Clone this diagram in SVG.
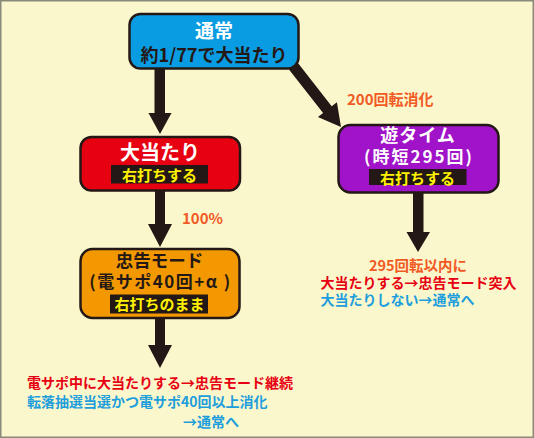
<svg xmlns="http://www.w3.org/2000/svg" width="534" height="438" viewBox="0 0 534 438">
<style>
text{font-family:"Noto Sans CJK JP","Noto Sans",sans-serif;font-weight:700}
.node{stroke:#231815;stroke-width:2.5}
.lbl{fill:#231815}
.c{text-anchor:middle}
.w{fill:#ffffff}
.k{fill:#231815}
.y{fill:#FFF100}
.o{fill:#F15A24}
.r{fill:#E60012}
.b{fill:#1E9EDC}
.arr{fill:#231815}
</style>
<rect x="0.75" y="0.75" width="532.5" height="436.5" fill="#FBF7CC" stroke="#8A8A7A" stroke-width="1.5"/>
<g id="connectors">
<polygon class="arr" points="154.5,66 165,66 165,113 171.5,113 160,134 148.5,113 154.5,113"/>
<polygon class="arr" points="155,188 165,188 165,224 172,224 160,247 148,224 155,224"/>
<polygon class="arr" points="155,316 165,316 165,345 172,345 160,368 148,345 155,345"/>
<polygon class="arr" points="413,190 423.5,190 423.5,232 430,232 418,252 406.5,232 413,232"/>
<polygon class="arr" points="291.3,54.6 331.7,106.3 336.9,102.3 341,127 317.9,117.1 323.1,113.1 282.7,61.4"/>
<text class="o" x="347" y="105" font-size="15">200回転消化</text>
<text class="o" x="182" y="224" font-size="15">100%</text>
</g>
<g id="node-tsujo">
<rect class="node" x="129.5" y="14" width="169" height="54.5" rx="11" fill="#0A9CE2"/>
<text class="c w" x="214" y="37.5" font-size="19">通常</text>
<text class="c k" x="214" y="62" font-size="18">約1/77で大当たり</text>
</g>
<g id="node-ooatari">
<rect class="node" x="80.5" y="137" width="159.5" height="53.5" rx="11" fill="#E60012"/>
<text class="c w" x="160" y="159.5" font-size="20">大当たり</text>
<rect class="lbl" x="111" y="165" width="97" height="18.5"/>
<text class="c y" x="159.5" y="181" font-size="15">右打ちする</text>
</g>
<g id="node-yutime">
<rect class="node" x="338.5" y="125" width="160" height="67.5" rx="12" fill="#A013C8"/>
<text class="c w" x="418" y="142" font-size="18" letter-spacing="1">遊タイム</text>
<text class="c w" x="419" y="162.5" font-size="17" letter-spacing="2">(時短295回)</text>
<rect class="lbl" x="369" y="169" width="97.5" height="16"/>
<text class="c y" x="417.5" y="183.5" font-size="15">右打ちする</text>
</g>
<g id="node-chukoku">
<rect class="node" x="80.5" y="249" width="159" height="69" rx="12" fill="#F39800"/>
<text class="c k" x="159.5" y="267" font-size="17.5">忠告モード</text>
<text class="c k" x="160.5" y="288" font-size="17" letter-spacing="1.5">(電サポ40回+α )</text>
<rect class="lbl" x="110" y="294.5" width="98" height="19"/>
<text class="c y" x="159.5" y="310" font-size="15">右打ちのまま</text>
</g>
<g id="result-right">
<text class="c o" x="418" y="271" font-size="14.5">295回転以内に</text>
<text class="r" x="320.5" y="288" font-size="14">大当たりする→忠告モード突入</text>
<text class="b" x="320.5" y="305" font-size="14">大当たりしない→通常へ</text>
</g>
<g id="result-left">
<text class="r" x="27" y="388" font-size="14">電サポ中に大当たりする→忠告モード継続</text>
<text class="b" x="27" y="406.5" font-size="14">転落抽選当選かつ電サポ40回以上消化</text>
<text class="b" x="183" y="426.5" font-size="14">→通常へ</text>
</g>
</svg>
